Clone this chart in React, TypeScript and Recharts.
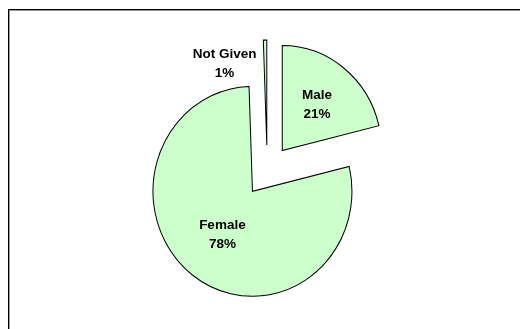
import React from 'react';
import { PieChart, Pie, Sector } from 'recharts';

const categories = ['Male', 'Female', 'Not Given'];
const shares = [21.2, 78.25, 0.55];
const data = categories.map((name, i) => ({ name, value: shares[i] }));

const W = 512;
const H = 321;
const CX = 259.2;
const CY = 162.8;
const R = 99.5;
const SY = 1.055;
const EXPLODE = 24.4;
const FILL = '#CCFFCC';
const RAD = Math.PI / 180;

const labelPlacement: Record<string, { r: number; shift: number }> = {
  Male: { r: 0.565, shift: 0 },
  Female: { r: 0.5, shift: 0 },
  'Not Given': { r: 0.89, shift: 27.5 },
};

function renderSlice(props: any) {
  const { cx, cy, outerRadius, startAngle, endAngle, midAngle, name, percent } = props;
  const ox = EXPLODE * Math.cos(-midAngle * RAD);
  const oy = EXPLODE * Math.sin(-midAngle * RAD);
  const p = labelPlacement[name] || { r: 0.5, shift: 0 };
  const la = midAngle + p.shift;
  const lr = outerRadius * p.r;
  const lx = cx + ox + lr * Math.cos(-la * RAD);
  const ly = cy + (oy + lr * Math.sin(-la * RAD)) * SY;
  return (
    <g>
      <g transform={`translate(${cx} ${cy}) scale(1 ${SY}) translate(${-cx + ox} ${-cy + oy})`}>
        <Sector
          cx={cx}
          cy={cy}
          innerRadius={0}
          outerRadius={outerRadius}
          startAngle={startAngle}
          endAngle={endAngle}
          fill={FILL}
          stroke="#000"
          strokeWidth={1}
        />
      </g>
      <text
        x={lx}
        textAnchor="middle"
        fontFamily="'Liberation Sans', Arial, sans-serif"
        fontWeight="bold"
        fontSize={13.5}
        fill="#000"
        stroke="none"
      >
        <tspan x={lx} y={ly - 4.5}>{name}</tspan>
        <tspan x={lx} y={ly + 14.5}>{`${Math.round(percent * 100)}%`}</tspan>
      </text>
    </g>
  );
}

export default function App() {
  return (
    <div style={{ position: 'fixed', left: 8, top: 8, width: W, height: H, overflow: 'hidden' }}>
      <PieChart width={W} height={H} margin={{ top: 0, right: 0, bottom: 0, left: 0 }}>
        <Pie
          data={data}
          dataKey="value"
          nameKey="name"
          cx={CX}
          cy={CY}
          innerRadius={0}
          outerRadius={R}
          startAngle={90}
          endAngle={-270}
          fill="none"
          stroke="none"
          label={renderSlice}
          labelLine={false}
          isAnimationActive={false}
        />
      </PieChart>
      <div style={{ position: 'absolute', left: 0, top: 1, width: W, height: 1, background: '#000' }} />
      <div style={{ position: 'absolute', left: 1, top: 2, width: W - 1, height: 1, background: '#999' }} />
      <div style={{ position: 'absolute', left: 0, top: 1, width: 1, height: H - 1, background: '#000' }} />
      <div style={{ position: 'absolute', left: 1, top: 2, width: 1, height: H - 2, background: '#999' }} />
    </div>
  );
}
